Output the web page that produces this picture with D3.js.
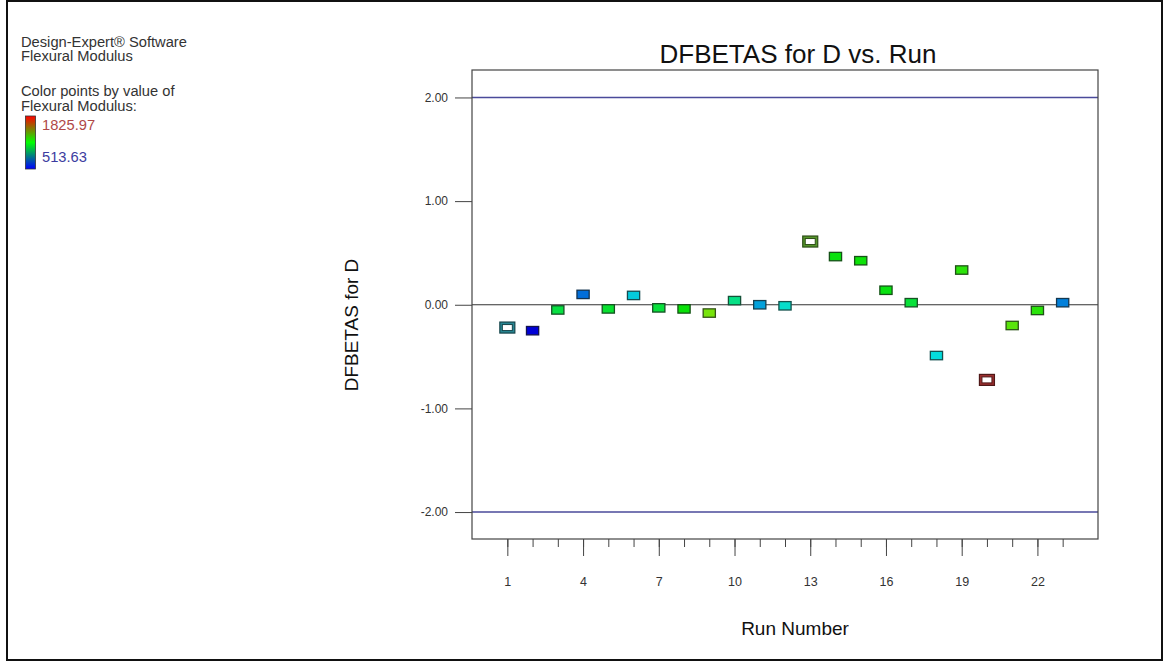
<!DOCTYPE html>
<html>
<head>
<meta charset="utf-8">
<script src="https://cdn.jsdelivr.net/npm/d3@7"></script>
<style>
  html, body { margin: 0; padding: 0; background: #fff; }
  svg { display: block; }
  text { font-family: "Liberation Sans", Arial, sans-serif; }
</style>
</head>
<body>
<svg id="chart" width="1170" height="662"></svg>
<script>
// Run order of the experiment
const runs = d3.range(1, 24);

// DFBETAS for factor D, one value per run
const dfbetas = [-0.22, -0.25, -0.05, 0.10, -0.04, 0.09, -0.03, -0.04, -0.08, 0.04, 0.00, -0.01,
                 0.61, 0.465, 0.425, 0.14, 0.02, -0.49, 0.335, -0.725, -0.20, -0.055, 0.02];

// Flexural Modulus response for each run (drives point colour)
const modulus = [802.3, 513.63, 1081.9, 677.7, 1109.4, 815.5, 1091.1, 1169.8, 1333.8, 978.2, 753.8, 867.9,
                 1301.0, 1162.4, 1175.3, 1156.7, 1095.2, 841.7, 1222.3, 1825.97, 1287.9, 1218.6, 705.2];

// Runs drawn as open (highlighted) markers
const flaggedRuns = [1, 13, 20];

// Axis ticks and limits
const yTicks = [-2, -1, 0, 1, 2];
const xMajorTicks = [1, 4, 7, 10, 13, 16, 19, 22];
const limits = [-2, 2];
const modRange = [513.63, 1825.97];

const headerLines = ["Design-Expert\u00AE Software", "Flexural Modulus"];
const colorLines = ["Color points by value of", "Flexural Modulus:"];

const svg = d3.select("#chart");

// Outer frame
svg.append("rect")
  .attr("x", 7).attr("y", 1).attr("width", 1155).attr("height", 659)
  .attr("fill", "none").attr("stroke", "#111").attr("stroke-width", 2);

// Plot region
const plot = { left: 472, right: 1098, top: 70, bottom: 539 };

const x = d3.scaleLinear().domain([-0.4, 24.4]).range([plot.left, plot.right]);
const y = d3.scaleLinear().domain([-2.26, 2.265]).range([plot.bottom, plot.top]);

const color = d3.scaleLinear()
  .domain(modRange)
  .range(["hsl(240,100%,42%)", "hsl(0,85%,50%)"])
  .interpolate(d3.interpolateHslLong);

// Title
svg.append("text")
  .attr("x", 798).attr("y", 63)
  .attr("text-anchor", "middle")
  .attr("font-size", 26).attr("fill", "#111")
  .text("DFBETAS for D vs. Run");

// Reference lines at the limits
svg.selectAll("line.limit").data(limits).join("line")
  .attr("class", "limit")
  .attr("x1", plot.left).attr("x2", plot.right)
  .attr("y1", d => y(d)).attr("y2", d => y(d))
  .attr("stroke", "#4a4a9a").attr("stroke-width", 1.4);

// Zero line
svg.append("line")
  .attr("x1", plot.left).attr("x2", plot.right)
  .attr("y1", y(0)).attr("y2", y(0))
  .attr("stroke", "#333").attr("stroke-width", 1.2);

// Plot frame
svg.append("rect")
  .attr("x", plot.left).attr("y", plot.top)
  .attr("width", plot.right - plot.left).attr("height", plot.bottom - plot.top)
  .attr("fill", "none").attr("stroke", "#444").attr("stroke-width", 1.2);

// Y axis (plain hyphen for negatives)
const fmt2 = d3.format(".2f");
const yAxis = d3.axisLeft(y)
  .tickValues(yTicks)
  .tickSize(17)
  .tickPadding(7)
  .tickFormat(d => fmt2(d).replace("\u2212", "-"));
const gy = svg.append("g").attr("transform", `translate(${plot.left},0)`).call(yAxis);
gy.select(".domain").remove();
gy.selectAll(".tick line").attr("stroke", "#444");
gy.selectAll(".tick text").attr("font-size", 12).attr("fill", "#333")
  .attr("font-family", "'Liberation Sans', Arial, sans-serif");

// X axis: minor ticks on every run, long ticks with labels every third run
const xMinor = d3.axisBottom(x).tickValues(runs).tickSize(8).tickFormat("");
const gxm = svg.append("g").attr("transform", `translate(0,${plot.bottom})`).call(xMinor);
gxm.select(".domain").remove();
gxm.selectAll(".tick line").attr("stroke", "#444");

const xAxis = d3.axisBottom(x).tickValues(xMajorTicks).tickSize(17).tickPadding(21).tickFormat(d3.format("d"));
const gx = svg.append("g").attr("transform", `translate(0,${plot.bottom})`).call(xAxis);
gx.select(".domain").remove();
gx.selectAll(".tick line").attr("stroke", "#444");
gx.selectAll(".tick text").attr("font-size", 12.5).attr("fill", "#333")
  .attr("font-family", "'Liberation Sans', Arial, sans-serif");

// Axis titles
svg.append("text")
  .attr("x", 795).attr("y", 635)
  .attr("text-anchor", "middle").attr("font-size", 19).attr("fill", "#111")
  .text("Run Number");

svg.append("text")
  .attr("transform", "translate(358,325) rotate(-90)")
  .attr("text-anchor", "middle").attr("font-size", 19).attr("fill", "#111")
  .text("DFBETAS for D");

// Points
const points = runs.map((r, i) => ({ run: r, value: dfbetas[i], mod: modulus[i], flagged: flaggedRuns.includes(r) }));
const mw = 12.2, mh = 8.4;
const darken = (c, k) => d3.interpolateRgb(c, "#1a1a1a")(k);

const gp = svg.append("g");
gp.selectAll("rect.pt").data(points.filter(d => !d.flagged)).join("rect")
  .attr("class", "pt")
  .attr("x", d => x(d.run) - mw / 2).attr("y", d => y(d.value) - mh / 2)
  .attr("width", mw).attr("height", mh)
  .attr("fill", d => color(d.mod))
  .attr("stroke", d => darken(color(d.mod), 0.72))
  .attr("stroke-width", 1.3);

// Open markers: darkened coloured band around a white centre
const flagged = points.filter(d => d.flagged);
gp.selectAll("rect.fo").data(flagged).join("rect")
  .attr("class", "fo")
  .attr("x", d => x(d.run) - 7.5).attr("y", d => y(d.value) - 5.5)
  .attr("width", 15).attr("height", 11)
  .attr("fill", d => d3.interpolateRgb(color(d.mod), "#4a4a4a")(0.5))
  .attr("stroke", d => darken(color(d.mod), 0.75))
  .attr("stroke-width", 1.2);
gp.selectAll("rect.fi").data(flagged).join("rect")
  .attr("class", "fi")
  .attr("x", d => x(d.run) - 5).attr("y", d => y(d.value) - 3)
  .attr("width", 10).attr("height", 6)
  .attr("fill", "#fff")
  .attr("stroke", d => darken(color(d.mod), 0.75))
  .attr("stroke-width", 1);

// Side panel text
const side = svg.append("g").attr("font-size", 14.7).attr("fill", "#333");
side.selectAll("text.h").data(headerLines).join("text")
  .attr("class", "h").attr("x", 21).attr("y", (d, i) => 46.5 + i * 14).text(d => d);
side.selectAll("text.c").data(colorLines).join("text")
  .attr("class", "c").attr("x", 21).attr("y", (d, i) => 96 + i * 14.5).text(d => d);

// Colour legend bar: red at top, green in the middle, blue at bottom
const defs = svg.append("defs");
const grad = defs.append("linearGradient").attr("id", "modGrad")
  .attr("x1", 0).attr("x2", 0).attr("y1", 0).attr("y2", 1);
grad.append("stop").attr("offset", "0%").attr("stop-color", "#ff0000");
grad.append("stop").attr("offset", "50%").attr("stop-color", "#00ff00");
grad.append("stop").attr("offset", "100%").attr("stop-color", "#0000ff");

svg.append("rect")
  .attr("x", 25.5).attr("y", 116).attr("width", 10).attr("height", 53)
  .attr("fill", "url(#modGrad)").attr("stroke", "#333").attr("stroke-width", 0.8);

svg.append("text").attr("x", 42).attr("y", 130)
  .attr("font-size", 14.7).attr("fill", "#b04848")
  .text(modRange[1].toFixed(2));
svg.append("text").attr("x", 42).attr("y", 162)
  .attr("font-size", 14.7).attr("fill", "#3c3ca0")
  .text(modRange[0].toFixed(2));
</script>
</body>
</html>
